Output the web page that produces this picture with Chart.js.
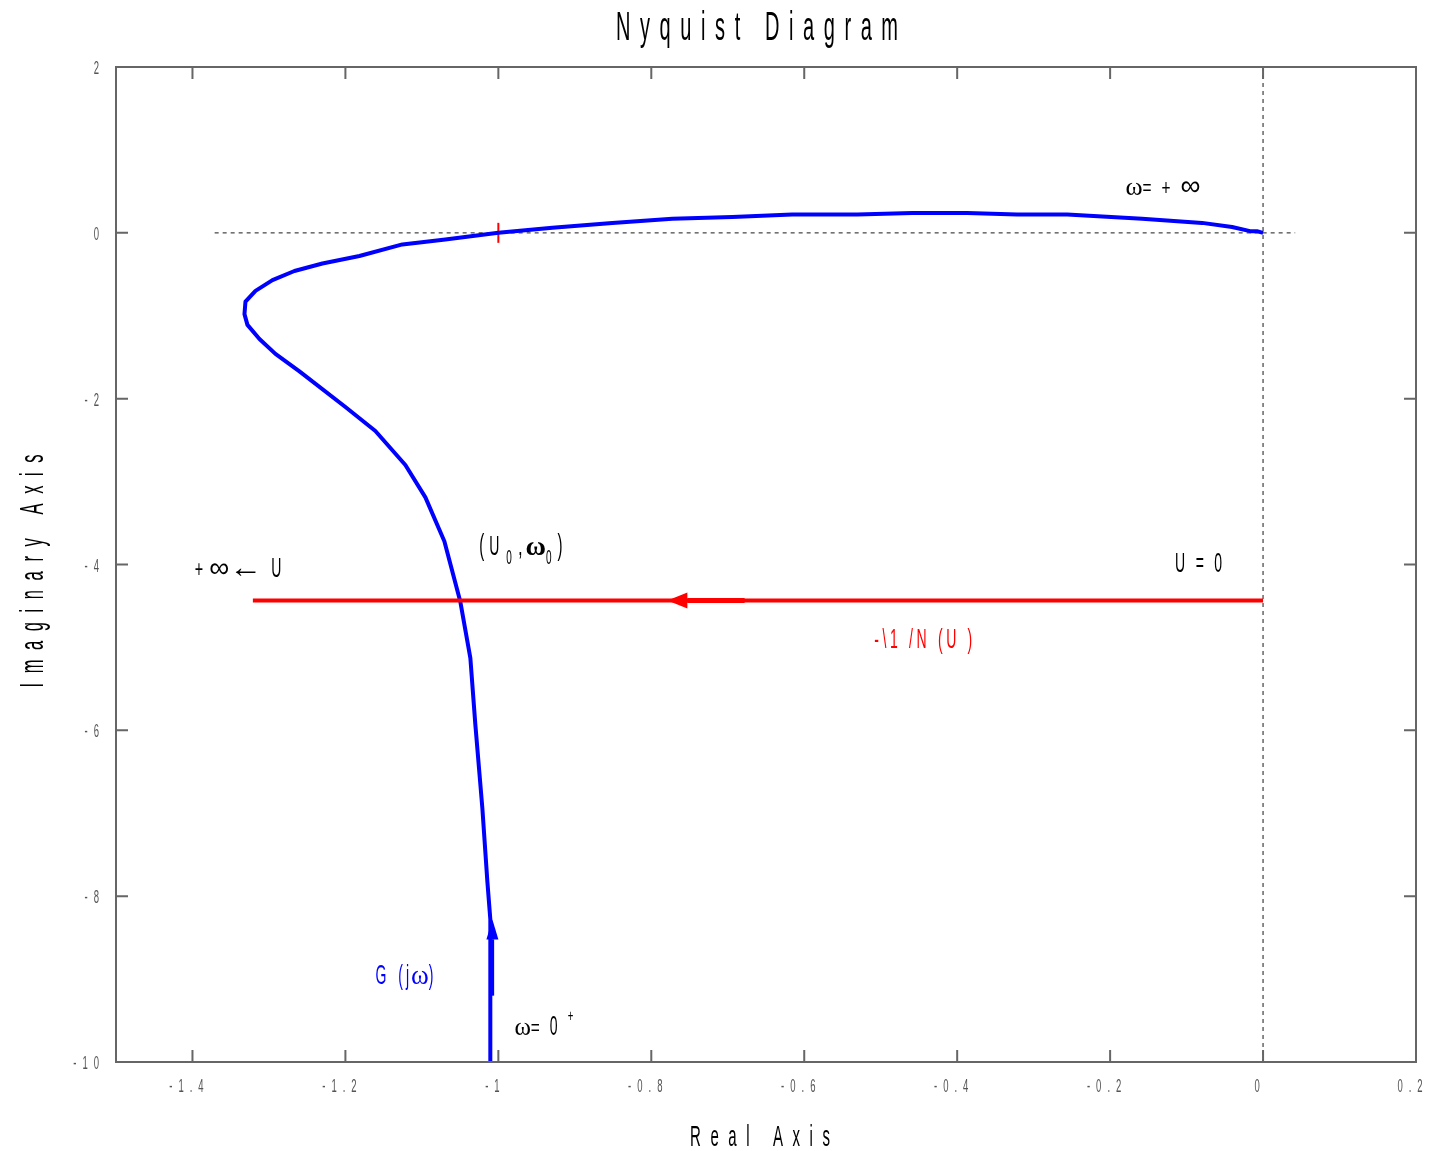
<!DOCTYPE html>
<html>
<head>
<meta charset="utf-8">
<script src="https://cdn.jsdelivr.net/npm/chart.js@4/dist/chart.umd.min.js"></script>
<style>
  html, body { margin: 0; padding: 0; background: #fff; }
  #wrap { width: 1431px; height: 1151px; position: relative; }
</style>
</head>
<body>
<div id="wrap"><canvas id="nyquist"></canvas></div>
<script>
// G(jw) curve, from w = 0+ (bottom) to w = +inf (origin)
const gRe = [-1.0105, -1.0105, -1.0144, -1.0209, -1.0301, -1.0366, -1.0497, -1.0706, -1.0954, -1.1216,
             -1.1608, -1.2, -1.2601, -1.2915, -1.3124, -1.3281, -1.3320, -1.3307, -1.3176, -1.2954,
             -1.2667, -1.2301, -1.1817, -1.1255, -1.0693, -1.0, -0.9294, -0.851, -0.7725, -0.6941,
             -0.6157, -0.5307, -0.4588, -0.3869, -0.3216, -0.2562, -0.1582, -0.0797, -0.0405, -0.017,
             -0.008, 0];
const gIm = [-10, -8.28, -7.82, -6.94, -5.93, -5.13, -4.45, -3.72, -3.19, -2.80,
             -2.39, -2.10, -1.67, -1.46, -1.28, -1.11, -0.98, -0.83, -0.70, -0.57,
             -0.46, -0.37, -0.28, -0.14, -0.08, 0, 0.06, 0.12, 0.17, 0.19,
             0.22, 0.22, 0.24, 0.24, 0.22, 0.22, 0.17, 0.12, 0.07, 0.02,
             0.02, 0];

// -1/N(U) line
const nRe = [-1.321, 0];
const nIm = [-4.434, -4.434];

// critical point marker (-1, 0)
const markRe = [-1];
const markIm = [0];

// dotted guides
const hGuideRe = [-1.371, 0.042];
const hGuideIm = [0, 0];
const vGuideRe = [0, 0];
const vGuideIm = [2, -10];

// direction arrows: [tailRe, tailIm, tipRe, tipIm]
const gArrow = [-1.0078, -9.2, -1.0078, -8.28];
const nArrow = [-0.678, -4.434, -0.779, -4.434];

const xTicks = [-1.4, -1.2, -1, -0.8, -0.6, -0.4, -0.2, 0, 0.2];
const yTicks = [2, 0, -2, -4, -6, -8, -10];

const SANS = '"Liberation Sans", Arial, sans-serif';
const SERIF = '"Liberation Serif", "Times New Roman", serif';

const pts = (xs, ys) => xs.map((x, i) => ({ x: x, y: ys[i] }));

// text notes, anchored in data units (left end of baseline)
const notes = [
  { x: -0.18, y: 0.458, color: '#000', runs: [
    { t: 'ω', f: SERIF, s: 26, sx: 1 },
    { t: '=', s: 22, sx: 0.7 },
    { t: '+', s: 22, sx: 0.7, gap: 10 },
    { t: '∞', s: 28, sx: 1, gap: 10 } ] },
  { x: -0.115, y: -4.096, color: '#000', runs: [
    { t: 'U = 0', s: 28, sx: 0.5, w: 47 } ] },
  { x: -1.397, y: -4.145, color: '#000', runs: [
    { t: '+', s: 24, sx: 0.6 },
    { t: '∞', s: 28, sx: 1, gap: 6 },
    { t: '←', s: 30, sx: 1.1 },
    { t: 'U', s: 28, sx: 0.5, gap: 9 } ] },
  { x: -1.025, y: -3.88, color: '#000', runs: [
    { t: '(', s: 30, sx: 0.5 },
    { t: 'U', s: 28, sx: 0.5, gap: 5 },
    { t: '0', s: 20, sx: 0.5, dy: 9, gap: 7 },
    { t: ',', s: 28, sx: 0.6, gap: 6 },
    { t: 'ω', f: SERIF, s: 28, sx: 1, b: 'bold', gap: 3 },
    { t: '0', s: 20, sx: 0.5, dy: 9 },
    { t: ')', s: 30, sx: 0.5, gap: 6 } ] },
  { x: -0.5085, y: -5.012, color: '#ff0000', runs: [
    { t: '-\\1 /N (U )', s: 28, sx: 0.5, w: 98 } ] },
  { x: -1.1608, y: -9.06, color: '#0000ff', runs: [
    { t: 'G', s: 28, sx: 0.5 },
    { t: '(j', s: 28, sx: 0.5, gap: 12, ls: 6 },
    { t: 'ω', f: SERIF, s: 27, sx: 1, gap: 2 },
    { t: ')', s: 28, sx: 0.5 } ] },
  { x: -0.979, y: -9.675, color: '#000', runs: [
    { t: 'ω', f: SERIF, s: 25, sx: 1 },
    { t: '=', s: 22, sx: 0.7 },
    { t: '0', s: 28, sx: 0.5, gap: 10 },
    { t: '+', s: 16, sx: 0.6, dy: -14, gap: 10 } ] }
];

function setFont(ctx, r, ls) {
  ctx.font = (r.b || 'normal') + ' ' + r.s + 'px ' + (r.f || SANS);
  ctx.letterSpacing = (ls || 0) + 'px';
}

function runSpacing(ctx, r) {
  if (r.w === undefined) return r.ls || 0;
  setFont(ctx, r, 0);
  const nat = ctx.measureText(r.t).width;
  const sx = r.sx === undefined ? 0.55 : r.sx;
  return (r.w / sx - nat) / Math.max(1, r.t.length - 1);
}

function runWidth(ctx, r) {
  const ls = runSpacing(ctx, r);
  setFont(ctx, r, ls);
  const sx = r.sx === undefined ? 0.55 : r.sx;
  return (ctx.measureText(r.t).width - ls) * sx;
}

function drawRuns(ctx, runs, x, y, color, align, rot) {
  ctx.save();
  ctx.fillStyle = color;
  ctx.textAlign = 'left';
  ctx.textBaseline = 'alphabetic';
  let total = 0;
  runs.forEach(r => { total += runWidth(ctx, r) + (r.gap || 0); });
  ctx.translate(x, y);
  if (rot) ctx.rotate(rot);
  let cx = align === 'center' ? -total / 2 : align === 'right' ? -total : 0;
  runs.forEach(r => {
    cx += r.gap || 0;
    const w = runWidth(ctx, r);
    const ls = runSpacing(ctx, r);
    setFont(ctx, r, ls);
    ctx.save();
    ctx.translate(cx, r.dy || 0);
    ctx.scale(r.sx === undefined ? 0.55 : r.sx, 1);
    ctx.fillText(r.t, 0, 0);
    ctx.restore();
    cx += w;
  });
  ctx.restore();
}

function drawArrow(ctx, xs, ys, a, color, shaft, headLen, headHalf) {
  const x0 = xs.getPixelForValue(a[0]), y0 = ys.getPixelForValue(a[1]);
  const x1 = xs.getPixelForValue(a[2]), y1 = ys.getPixelForValue(a[3]);
  const ang = Math.atan2(y1 - y0, x1 - x0);
  const bx = x1 - headLen * Math.cos(ang), by = y1 - headLen * Math.sin(ang);
  ctx.save();
  ctx.strokeStyle = color;
  ctx.fillStyle = color;
  ctx.lineWidth = shaft;
  ctx.beginPath();
  ctx.moveTo(x0, y0);
  ctx.lineTo(bx, by);
  ctx.stroke();
  ctx.beginPath();
  ctx.moveTo(x1, y1);
  ctx.lineTo(bx + headHalf * Math.sin(ang), by - headHalf * Math.cos(ang));
  ctx.lineTo(bx - headHalf * Math.sin(ang), by + headHalf * Math.cos(ang));
  ctx.closePath();
  ctx.fill();
  ctx.restore();
}

const tickFont = { s: 19, sx: 0.5, ls: 12 };

const decorations = {
  id: 'decorations',
  afterDraw(chart) {
    const ctx = chart.ctx;
    const a = chart.chartArea;
    const xs = chart.scales.x, ys = chart.scales.y;

    // arrows on the curves
    drawArrow(ctx, xs, ys, gArrow, '#0000ff', 3.5, 20, 6);
    drawArrow(ctx, xs, ys, nArrow, '#ff0000', 5, 20, 8);

    // box + inward ticks
    ctx.save();
    ctx.strokeStyle = '#666';
    ctx.lineWidth = 2;
    ctx.strokeRect(a.left, a.top, a.right - a.left, a.bottom - a.top);
    ctx.beginPath();
    xTicks.forEach(v => {
      const px = xs.getPixelForValue(v);
      ctx.moveTo(px, a.bottom); ctx.lineTo(px, a.bottom - 12);
      ctx.moveTo(px, a.top); ctx.lineTo(px, a.top + 12);
    });
    yTicks.forEach(v => {
      const py = ys.getPixelForValue(v);
      ctx.moveTo(a.left, py); ctx.lineTo(a.left + 12, py);
      ctx.moveTo(a.right, py); ctx.lineTo(a.right - 12, py);
    });
    ctx.stroke();
    ctx.restore();

    // tick labels
    xTicks.forEach(v => {
      drawRuns(ctx, [Object.assign({ t: String(v) }, tickFont)],
        xs.getPixelForValue(v) - 6, a.bottom + 30, '#555', 'center');
    });
    yTicks.forEach(v => {
      drawRuns(ctx, [Object.assign({ t: String(v) }, tickFont)],
        a.left - 17, ys.getPixelForValue(v) + 7, '#555', 'right');
    });

    // title and axis titles
    drawRuns(ctx, [{ t: 'Nyquist Diagram', s: 40, sx: 0.5, w: 282 }], 757, 40, '#000', 'center');
    drawRuns(ctx, [{ t: 'Real Axis', s: 30, sx: 0.5, w: 140 }], 760, 1146, '#000', 'center');
    drawRuns(ctx, [{ t: 'Imaginary Axis', s: 33, sx: 0.5, w: 233 }], 43, 571, '#000', 'center', -Math.PI / 2);

    // notes
    notes.forEach(n => {
      drawRuns(ctx, n.runs, xs.getPixelForValue(n.x), ys.getPixelForValue(n.y), n.color, 'left');
    });
  }
};

new Chart(document.getElementById('nyquist').getContext('2d'), {
  type: 'scatter',
  data: {
    datasets: [
      { label: '-1/N(U)', data: pts(nRe, nIm), showLine: true, borderColor: '#ff0000',
        borderWidth: 4, pointRadius: 0, order: 0 },
      { label: 'G(jω)', data: pts(gRe, gIm), showLine: true, borderColor: '#0000ff',
        borderWidth: 4, pointRadius: 0, tension: 0, borderJoinStyle: 'round', order: 1 },
      { label: 'critical', data: pts(markRe, markIm), showLine: false, pointStyle: 'line',
        rotation: 90, pointRadius: 10, borderColor: '#ff0000', borderWidth: 2, order: 2 },
      { label: 'real axis', data: pts(hGuideRe, hGuideIm), showLine: true, borderColor: '#666',
        borderWidth: 1.5, borderDash: [4, 4], pointRadius: 0, order: 3 },
      { label: 'imag axis', data: pts(vGuideRe, vGuideIm), showLine: true, borderColor: '#666',
        borderWidth: 1.5, borderDash: [4, 4], pointRadius: 0, order: 4 }
    ]
  },
  options: {
    responsive: true,
    maintainAspectRatio: false,
    devicePixelRatio: 1,
    animation: false,
    events: [],
    layout: { padding: { left: 116, top: 67, right: 15, bottom: 89 } },
    plugins: { legend: { display: false }, tooltip: { enabled: false }, title: { display: false } },
    scales: {
      x: {
        type: 'linear', min: -1.5, max: 0.2,
        grid: { display: false },
        ticks: { display: false },
        border: { display: true, color: '#666', width: 2 },
        afterFit: s => { s.height = 0; }
      },
      y: {
        type: 'linear', min: -10, max: 2,
        grid: { display: false },
        ticks: { display: false },
        border: { display: true, color: '#666', width: 2 },
        afterFit: s => { s.width = 0; }
      }
    }
  },
  plugins: [decorations]
});
</script>
</body>
</html>
